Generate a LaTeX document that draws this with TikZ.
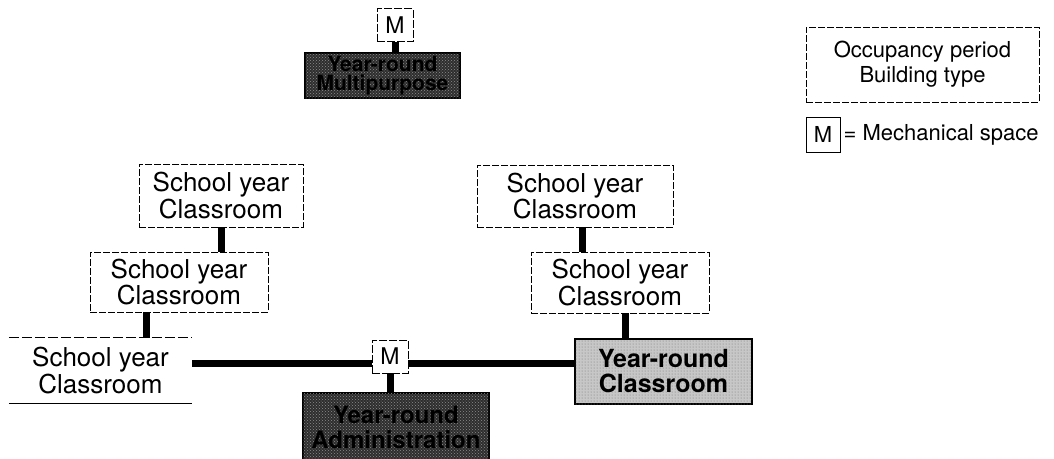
\documentclass[tikz,border=0pt]{standalone}
\usepackage{fontspec}
\setmainfont{TeX Gyre Heros}
\usetikzlibrary{calc,patterns}

\begin{document}
\begin{tikzpicture}[x=1pt, y=-1pt,
  box/.style={inner sep=0pt, align=center, font=\fontsize{26}{25}\selectfont},
  sybox/.style={box, draw, line width=0.9pt, dash pattern=on 7pt off 2pt},
  darkbox/.style={box, draw, line width=1.2pt, fill=black!82,
    font=\bfseries\fontsize{24}{25}\selectfont,
    postaction={pattern=crosshatch dots, pattern color=black!45}},
  lightbox/.style={box, draw, line width=1.6pt, fill=black!22,
    font=\bfseries\fontsize{25}{25}\selectfont,
    postaction={pattern=dots, pattern color=black!55}},
  mbox/.style={inner sep=0pt, draw, fill=white, line width=0.9pt,
    dash pattern=on 8pt off 2pt, minimum width=36pt, minimum height=33pt,
    font=\fontsize{23}{23}\selectfont},
  link/.style={line width=7pt}]
  \useasboundingbox (0,0) rectangle (1054,458);

  % top block
  \node[mbox] (mtop) at (395,25) {M};
  \node[darkbox, minimum width=155pt, minimum height=45pt,
    font=\bfseries\fontsize{21}{19}\selectfont] (multi) at (382.5,75.5) {Year-round\\Multipurpose};

  % left wing
  \node[sybox, minimum width=164pt, minimum height=63pt] (syA) at (221,195.5) {School year\\Classroom};
  \node[sybox, minimum width=178pt, minimum height=60pt] (syB) at (179,282) {School year\\Classroom};
  \node[box, minimum width=183pt, minimum height=65pt] (syC) at (100.5,370.5) {School year\\Classroom};
  \draw[line width=0.9pt, dash pattern=on 10pt off 3pt] (syC.north west) -- (syC.north east);
  \draw[line width=1pt] (syC.south west) -- (syC.south east);

  % right wing
  \node[sybox, minimum width=196pt, minimum height=62pt] (syD) at (575,196) {School year\\Classroom};
  \node[sybox, minimum width=178pt, minimum height=61pt] (syE) at (620,282.5) {School year\\Classroom};
  \node[lightbox, minimum width=177pt, minimum height=65pt] (yrc) at (663.5,371.5) {Year-round\\Classroom};

  % centre
  \node[mbox] (mmid) at (390,356.5) {M};
  \node[darkbox, minimum width=186pt, minimum height=68pt] (admin) at (396,427) {Year-round\\Administration};

  % key
  \node[sybox, minimum width=233pt, minimum height=75pt,
    font=\fontsize{22}{25}\selectfont] (key) at (922.5,64.5) {Occupancy period\\Building type};
  \node[mbox, solid, minimum width=34pt, minimum height=35pt,
    font=\fontsize{22}{22}\selectfont] (mkey) at (823,134.5) {M};
  \node[anchor=west, inner sep=0pt, xshift=3pt,
    font=\fontsize{22}{22}\selectfont] (mtext) at (mkey.east) {= Mechanical space};

  % links
  \draw[link] (mtop.south) -- (mtop.south |- multi.north);
  \draw[link] (syA.south) -- (syA.south |- syB.north);
  \draw[link] ($(syB.south west)!0.32!(syB.south east)$) coordinate (bC) -- (bC |- syC.north);
  \draw[link] ($(syD.south)+(7,0)$) coordinate (dE) -- (dE |- syE.north);
  \draw[link] ($(syE.south)+(5,0)$) coordinate (eY) -- (eY |- yrc.north);
  \draw[link] ($(mmid.west)+(0,7)$) coordinate (mw) -- (mw -| syC.east);
  \draw[link] ($(mmid.east)+(0,7)$) coordinate (me) -- (me -| yrc.west);
  \draw[link] (mmid.south) -- (mmid.south |- admin.north);
\end{tikzpicture}
\end{document}
